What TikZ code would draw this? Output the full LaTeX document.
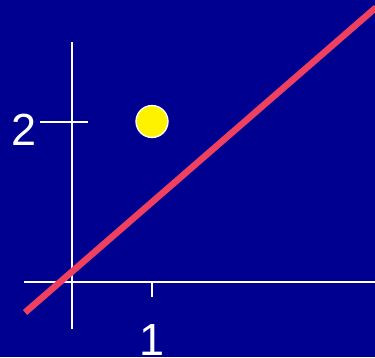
\documentclass[tikz,border=0pt]{standalone}
\usepackage{fontspec}
\setmainfont{Liberation Sans}
\definecolor{bgblue}{RGB}{0,0,144}
\definecolor{redline}{RGB}{240,64,96}
\begin{document}
\begin{tikzpicture}[x=1pt,y=-1pt,
  axis/.style={draw=white,line width=1.6pt},
  lbl/.style={text=white,inner sep=0pt,anchor=base,font=\fontsize{45}{45}\selectfont},
  dot/.style={circle,fill=yellow,draw=white,line width=1.3pt,minimum size=32pt,inner sep=0pt}]
\fill[bgblue] (0,0) rectangle (375,357);
\useasboundingbox (0,0) rectangle (375,357);
% axes
\coordinate (ytop) at (72,42);
\coordinate (ybot) at (72,329);
\coordinate (xl) at (24,282);
\coordinate (xr) at (375,282);
\draw[axis] (ytop) -- (ybot);
\draw[axis] (xl) -- (xr);
% ticks
\coordinate (xt1) at (152,282);
\coordinate (xt2) at (152,297);
\draw[axis] (xt1) -- (xt2);
\coordinate (yt1) at (40,122);
\coordinate (yt2) at (88,122);
\draw[axis] (yt1) -- (yt2);
% labels
\node[lbl] (two) at (24.5,145) {2};
\node[lbl] (one) at (152,355) {1};
% point
\node[dot] (pt) at (152,121.5) {};
% line
\coordinate (la) at (25,312.5);
\coordinate (lb) at (376,7.5);
\draw[redline,line width=6.5pt] (la) -- (lb);
\end{tikzpicture}
\end{document}
